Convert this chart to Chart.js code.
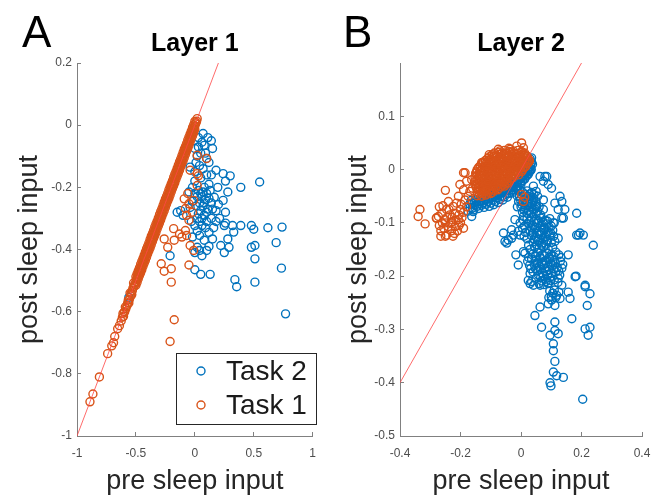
<!DOCTYPE html>
<html>
<head>
<meta charset="utf-8">
<script src="https://cdn.jsdelivr.net/npm/chart.js@4.4.1/dist/chart.umd.min.js"></script>
<style>
  body { margin: 0; background: #fff; }
  #wrap { position: relative; width: 665px; height: 498px; }
  canvas { position: absolute; top: 0; }
  #chartA { left: 0; }
  #chartB { left: 330px; }
</style>
</head>
<body>
<div id="wrap">
  <canvas id="chartA" width="330" height="498"></canvas>
  <canvas id="chartB" width="335" height="498"></canvas>
</div>
<script>
// Layer 1, Task 1 (pre, post) - most points sit on the identity line
const layer1Task1 = [
  [0.02,0.021],[0.015,0.013],[0.01,0.008],[0.005,0.004],[0.0,-0.003],[-0.005,-0.006],[-0.01,-0.012],[-0.015,-0.016],
  [-0.02,-0.022],[-0.025,-0.027],[-0.03,-0.031],[-0.035,-0.038],[-0.04,-0.042],[-0.045,-0.046],[-0.05,-0.053],
  [-0.055,-0.057],[-0.06,-0.061],[-0.065,-0.068],[-0.07,-0.072],[-0.075,-0.076],[-0.08,-0.083],[-0.085,-0.087],
  [-0.09,-0.091],[-0.095,-0.098],[-0.1,-0.102],[-0.105,-0.106],[-0.11,-0.113],[-0.115,-0.117],[-0.12,-0.121],
  [-0.125,-0.128],[-0.13,-0.132],[-0.135,-0.136],[-0.14,-0.143],[-0.145,-0.147],[-0.15,-0.151],[-0.155,-0.158],
  [-0.16,-0.162],[-0.165,-0.166],[-0.17,-0.173],[-0.175,-0.177],[-0.18,-0.181],[-0.185,-0.188],[-0.19,-0.192],
  [-0.195,-0.196],[-0.2,-0.203],[-0.205,-0.207],[-0.21,-0.211],[-0.215,-0.218],[-0.22,-0.222],[-0.225,-0.226],
  [-0.23,-0.233],[-0.235,-0.237],[-0.24,-0.241],[-0.245,-0.248],[-0.25,-0.252],[-0.255,-0.256],[-0.26,-0.263],
  [-0.265,-0.267],[-0.27,-0.271],[-0.275,-0.278],[-0.28,-0.282],[-0.285,-0.286],[-0.29,-0.293],[-0.295,-0.297],
  [-0.3,-0.301],[-0.305,-0.308],[-0.31,-0.312],[-0.315,-0.316],[-0.32,-0.323],[-0.325,-0.327],[-0.33,-0.331],
  [-0.335,-0.338],[-0.34,-0.342],[-0.345,-0.346],[-0.35,-0.353],[-0.355,-0.357],[-0.36,-0.361],[-0.365,-0.368],
  [-0.37,-0.372],[-0.375,-0.376],[-0.38,-0.383],[-0.385,-0.387],[-0.39,-0.391],[-0.395,-0.398],[-0.4,-0.402],
  [-0.405,-0.406],[-0.41,-0.413],[-0.415,-0.417],[-0.42,-0.421],[-0.425,-0.428],[-0.43,-0.432],[-0.435,-0.436],
  [-0.44,-0.443],[-0.445,-0.447],[-0.45,-0.451],[-0.455,-0.458],[-0.46,-0.462],[-0.465,-0.466],[-0.47,-0.473],
  [-0.475,-0.477],[-0.48,-0.481],[-0.485,-0.488],[-0.49,-0.492],[-0.495,-0.496],[-0.5,-0.503],
  [0.0,-0.014],[-0.02,-0.035],[-0.04,-0.054],[-0.06,-0.075],[-0.08,-0.094],[-0.1,-0.115],[-0.12,-0.134],
  [-0.14,-0.155],[-0.16,-0.174],[-0.18,-0.195],[-0.2,-0.214],[-0.22,-0.235],[-0.24,-0.254],[-0.26,-0.275],
  [-0.28,-0.294],[-0.3,-0.315],[-0.32,-0.334],[-0.34,-0.355],[-0.36,-0.374],[-0.38,-0.395],[-0.4,-0.414],
  [-0.42,-0.435],[-0.44,-0.454],[-0.46,-0.475],[-0.48,-0.494],[-0.5,-0.515],
  [-0.01,-0.025],[-0.03,-0.044],[-0.05,-0.065],[-0.07,-0.084],[-0.09,-0.105],[-0.11,-0.124],[-0.13,-0.145],
  [-0.15,-0.164],[-0.17,-0.185],[-0.19,-0.204],[-0.21,-0.225],[-0.23,-0.244],[-0.25,-0.265],[-0.27,-0.284],
  [-0.29,-0.305],[-0.31,-0.324],[-0.33,-0.345],[-0.35,-0.364],[-0.37,-0.385],[-0.39,-0.404],[-0.41,-0.425],
  [-0.43,-0.444],[-0.45,-0.465],[-0.47,-0.484],[-0.49,-0.505],
  [0.0,0.012],[-0.02,-0.008],[-0.04,-0.029],[-0.06,-0.048],[-0.08,-0.069],[-0.1,-0.088],[-0.12,-0.109],
  [-0.14,-0.128],[-0.16,-0.149],[-0.18,-0.168],[-0.2,-0.189],[-0.22,-0.208],[-0.24,-0.229],[-0.26,-0.248],
  [-0.28,-0.269],[-0.3,-0.288],[-0.32,-0.309],[-0.34,-0.328],[-0.36,-0.349],[-0.38,-0.368],[-0.4,-0.389],
  [-0.42,-0.408],[-0.44,-0.429],[-0.46,-0.448],[-0.48,-0.469],[-0.5,-0.488],
  [-0.01,0.001],[-0.03,-0.019],[-0.05,-0.038],[-0.07,-0.059],[-0.09,-0.078],[-0.11,-0.099],[-0.13,-0.118],
  [-0.15,-0.139],[-0.17,-0.158],[-0.19,-0.179],[-0.21,-0.198],[-0.23,-0.219],[-0.25,-0.238],[-0.27,-0.259],
  [-0.29,-0.278],[-0.31,-0.299],[-0.33,-0.318],[-0.35,-0.339],[-0.37,-0.358],[-0.39,-0.379],[-0.41,-0.398],
  [-0.43,-0.419],[-0.45,-0.438],[-0.47,-0.459],[-0.49,-0.478],
  [-0.51,-0.512],[-0.515,-0.518],[-0.52,-0.508],[-0.525,-0.524],[-0.53,-0.532],[-0.535,-0.545],[-0.54,-0.54],
  [-0.545,-0.55],[-0.55,-0.54],[-0.555,-0.56],[-0.56,-0.572],[-0.565,-0.563],[-0.57,-0.572],[-0.575,-0.58],
  [-0.585,-0.59],[-0.59,-0.585],[-0.595,-0.6],[-0.6,-0.602],[-0.605,-0.615],[-0.61,-0.606],[-0.615,-0.618],
  [-0.625,-0.63],[-0.64,-0.645],[-0.655,-0.655],[-0.68,-0.68],[-0.69,-0.7],[-0.705,-0.71],[-0.74,-0.735],
  [-0.81,-0.81],[-0.865,-0.865],[-0.89,-0.89],
  [0.02,-0.097],[0.1,-0.107],[-0.04,-0.145],[0.02,-0.156],[0.03,-0.163],[0.02,-0.194],[-0.09,-0.237],[-0.05,-0.253],
  [-0.08,-0.268],[-0.07,-0.29],[-0.01,-0.242],[-0.05,-0.306],[-0.06,-0.22],[-0.02,-0.28],[-0.18,-0.333],[-0.13,-0.35],
  [-0.08,-0.339],[-0.07,-0.355],[-0.26,-0.366],[-0.175,-0.37],[-0.11,-0.36],[-0.23,-0.393],[-0.04,-0.387],[-0.01,-0.403],
  [-0.285,-0.446],[-0.2,-0.462],[-0.26,-0.47],[-0.05,-0.45],[-0.2,-0.505],[-0.175,-0.626],[-0.21,-0.696]
];

// Layer 1, Task 2
const layer1Task2 = [
  [0.07,-0.027],[0.11,-0.04],[0.14,-0.05],[0.06,-0.055],[0.08,-0.065],[0.15,-0.075],[0.0,-0.075],[0.03,-0.04],
  [0.02,-0.1],[0.1,-0.107],[0.05,-0.09],[-0.04,-0.135],[0.04,-0.13],[0.01,-0.12],[0.18,-0.145],[0.24,-0.156],
  [0.14,-0.16],[0.3,-0.163],[0.26,-0.18],[0.55,-0.183],[0.39,-0.2],[0.195,-0.2],[0.08,-0.2],[-0.05,-0.215],
  [0.28,-0.215],[0.06,-0.23],[0.09,-0.24],[0.07,-0.26],[0.05,-0.275],[0.165,-0.232],[0.24,-0.242],[0.14,-0.25],
  [-0.12,-0.275],[-0.15,-0.28],[-0.04,-0.265],[0.18,-0.275],[0.26,-0.28],[0.08,-0.29],[0.02,-0.3],[0.14,-0.3],
  [0.0,-0.18],[0.03,-0.21],[0.1,-0.22],[0.12,-0.19],[0.04,-0.25],[0.11,-0.27],[0.01,-0.26],[0.0,-0.22],
  [0.07,-0.215],[0.12,-0.235],[0.03,-0.285],[0.1,-0.31],[0.06,-0.3],[-0.02,-0.245],[0.15,-0.27],[0.2,-0.255],
  [0.09,-0.33],[0.12,-0.345],[-0.1,-0.29],[-0.03,-0.31],
  [0.03,-0.07],[0.09,-0.09],[0.12,-0.12],[0.07,-0.14],[0.0,-0.15],[0.1,-0.16],[0.05,-0.17],[0.02,-0.23],
  [0.08,-0.25],[0.05,-0.22],[0.13,-0.21],[-0.02,-0.2],[0.1,-0.28],[0.04,-0.31],[0.16,-0.33],[0.21,-0.3],
  [0.12,-0.39],[0.08,-0.37],[-0.02,-0.36],[0.0,-0.41],
  [0.48,-0.323],[0.62,-0.33],[0.74,-0.328],[0.5,-0.335],[0.69,-0.378],[0.51,-0.387],[0.39,-0.323],[0.32,-0.323],
  [0.33,-0.344],[0.25,-0.323],[0.18,-0.31],[0.26,-0.315],[0.06,-0.323],[0.0,-0.323],[0.02,-0.34],[0.15,-0.366],
  [0.28,-0.366],[0.22,-0.387],[0.29,-0.393],[0.25,-0.41],[0.04,-0.355],[0.02,-0.393],[0.04,-0.403],[0.1,-0.403],
  [0.06,-0.42],[0.48,-0.393],[-0.21,-0.42],[0.0,-0.465],[0.05,-0.48],[0.13,-0.48],[0.51,-0.43],[0.735,-0.46],
  [0.34,-0.497],[0.355,-0.52],[0.51,-0.505],[0.77,-0.607],[-0.56,-0.554]
];

// Layer 2, Task 1
const layer2Task1 = [
  [-0.334,-0.075],[-0.34,-0.088],[-0.317,-0.102],[-0.28,-0.091],[-0.25,-0.039],[-0.185,-0.006],[-0.18,-0.022],
  [-0.163,-0.019],[-0.152,-0.028],[-0.19,-0.038],[-0.169,-0.041],[-0.207,-0.05],[-0.185,-0.057],[-0.24,-0.06],
  [-0.224,-0.069],[-0.246,-0.075],[-0.262,-0.082],[-0.235,-0.085],[-0.218,-0.082],[-0.2,-0.075],[-0.279,-0.091],
  [-0.251,-0.094],[-0.229,-0.098],[-0.207,-0.094],[-0.24,-0.107],[-0.218,-0.107],[-0.273,-0.088],[-0.213,-0.063],
  [-0.246,-0.123],[-0.23,-0.115],[-0.255,-0.11],[-0.21,-0.115],[-0.195,-0.09],[-0.26,-0.1],[-0.228,-0.09],
  [-0.238,-0.075],[-0.215,-0.095],[-0.198,-0.065],[-0.175,-0.05],[-0.16,-0.035],
  [-0.27,-0.07],[-0.25,-0.1],[-0.22,-0.12],[-0.205,-0.105],[-0.19,-0.08],[-0.18,-0.07],[-0.245,-0.09],[-0.232,-0.1],
  [-0.265,-0.115],[-0.25,-0.125],[-0.27,-0.105],[-0.258,-0.068],[-0.2,-0.1],[-0.19,-0.11],[-0.225,-0.125],
  [-0.205,-0.085],[-0.265,-0.125],[-0.202,-0.028],[-0.19,-0.006],
  [0.002,0.05],[0.008,0.041],[0.002,-0.047],[0.008,-0.06],[0.012,-0.052],
  [-0.075,0.038],[-0.04,0.04],[-0.13,0.013],[-0.105,0.028],[-0.036,0.038],[-0.014,0.044],
  [-0.07,0.035],[-0.055,0.036],[-0.04,0.034],[-0.025,0.035],[-0.01,0.036],[0.002,0.034],
  [-0.088,0.031],[-0.075,0.032],[-0.062,0.031],[-0.049,0.03],[-0.036,0.032],[-0.023,0.031],[-0.011,0.03],
  [0.001,0.032],[0.012,0.031],
  [-0.095,0.028],[-0.082,0.027],[-0.068,0.029],[-0.055,0.028],[-0.042,0.027],[-0.03,0.029],[-0.017,0.028],
  [-0.005,0.027],[0.008,0.028],[0.018,0.026],
  [-0.104,0.024],[-0.091,0.025],[-0.079,0.024],[-0.066,0.023],[-0.054,0.025],[-0.041,0.024],[-0.029,0.023],
  [-0.016,0.025],[-0.004,0.024],[0.009,0.023],[0.021,0.024],
  [-0.11,0.021],[-0.098,0.02],[-0.085,0.022],[-0.072,0.021],[-0.06,0.02],[-0.048,0.022],[-0.035,0.021],
  [-0.022,0.02],[-0.01,0.022],[0.003,0.021],[0.016,0.02],[0.026,0.019],
  [-0.118,0.017],[-0.106,0.018],[-0.093,0.017],[-0.081,0.016],[-0.069,0.018],[-0.056,0.017],[-0.044,0.016],
  [-0.031,0.018],[-0.019,0.017],[-0.006,0.016],[0.006,0.018],[0.018,0.017],[0.028,0.016],
  [-0.125,0.014],[-0.113,0.013],[-0.1,0.015],[-0.088,0.014],[-0.076,0.013],[-0.063,0.015],[-0.05,0.014],
  [-0.038,0.013],[-0.025,0.015],[-0.013,0.014],[0.0,0.013],[0.012,0.015],[0.024,0.013],
  [-0.129,0.011],[-0.116,0.01],[-0.104,0.011],[-0.091,0.01],[-0.078,0.011],[-0.066,0.01],[-0.053,0.011],
  [-0.041,0.01],[-0.028,0.011],[-0.016,0.01],[-0.003,0.011],[0.009,0.01],[0.021,0.011],
  [-0.135,0.007],[-0.122,0.006],[-0.11,0.008],[-0.097,0.007],[-0.085,0.006],[-0.072,0.008],[-0.06,0.007],
  [-0.047,0.006],[-0.035,0.008],[-0.022,0.007],[-0.01,0.006],[0.003,0.008],[0.016,0.006],
  [-0.14,0.004],[-0.128,0.003],[-0.115,0.004],[-0.103,0.003],[-0.09,0.004],[-0.078,0.003],[-0.065,0.004],
  [-0.053,0.003],[-0.04,0.004],[-0.028,0.003],[-0.015,0.004],[-0.002,0.003],[0.011,0.004],
  [-0.145,0.0],[-0.132,-0.001],[-0.12,0.001],[-0.107,0.0],[-0.095,-0.001],[-0.082,0.001],[-0.07,0.0],
  [-0.057,-0.001],[-0.045,0.001],[-0.032,0.0],[-0.02,-0.001],[-0.007,0.001],[0.006,0.0],
  [-0.147,-0.004],[-0.135,-0.003],[-0.122,-0.004],[-0.11,-0.003],[-0.097,-0.004],[-0.085,-0.003],[-0.072,-0.004],
  [-0.06,-0.003],[-0.047,-0.004],[-0.035,-0.003],[-0.022,-0.004],[-0.01,-0.003],[0.002,-0.004],
  [-0.15,-0.007],[-0.138,-0.008],[-0.125,-0.006],[-0.112,-0.007],[-0.1,-0.008],[-0.087,-0.006],[-0.075,-0.007],
  [-0.062,-0.008],[-0.05,-0.006],[-0.037,-0.007],[-0.025,-0.008],[-0.012,-0.006],
  [-0.146,-0.011],[-0.133,-0.01],[-0.121,-0.011],[-0.108,-0.01],[-0.096,-0.011],[-0.083,-0.01],[-0.071,-0.011],
  [-0.058,-0.01],[-0.046,-0.011],[-0.033,-0.01],[-0.02,-0.011],[-0.008,-0.01],
  [-0.152,-0.014],[-0.14,-0.015],[-0.127,-0.013],[-0.115,-0.014],[-0.102,-0.015],[-0.09,-0.013],[-0.077,-0.014],
  [-0.065,-0.015],[-0.052,-0.013],[-0.04,-0.014],[-0.027,-0.015],
  [-0.145,-0.018],[-0.133,-0.017],[-0.12,-0.018],[-0.108,-0.017],[-0.095,-0.018],[-0.083,-0.017],[-0.07,-0.018],
  [-0.058,-0.017],[-0.045,-0.018],[-0.033,-0.017],
  [-0.15,-0.021],[-0.137,-0.022],[-0.125,-0.02],[-0.112,-0.021],[-0.1,-0.022],[-0.087,-0.02],[-0.075,-0.021],
  [-0.062,-0.022],[-0.05,-0.02],[-0.038,-0.021],
  [-0.143,-0.025],[-0.131,-0.024],[-0.118,-0.025],[-0.106,-0.024],[-0.093,-0.025],[-0.081,-0.024],[-0.068,-0.025],
  [-0.056,-0.024],[-0.043,-0.025],
  [-0.148,-0.028],[-0.135,-0.029],[-0.122,-0.027],[-0.11,-0.028],[-0.097,-0.029],[-0.085,-0.027],[-0.072,-0.028],
  [-0.06,-0.029],[-0.048,-0.027],
  [-0.141,-0.032],[-0.128,-0.031],[-0.116,-0.032],[-0.103,-0.031],[-0.091,-0.032],[-0.078,-0.031],[-0.066,-0.032],
  [-0.054,-0.031],
  [-0.147,-0.035],[-0.134,-0.036],[-0.122,-0.034],[-0.109,-0.035],[-0.097,-0.036],[-0.084,-0.034],[-0.072,-0.035],
  [-0.14,-0.039],[-0.127,-0.038],[-0.114,-0.039],[-0.101,-0.038],[-0.089,-0.039],[-0.077,-0.038],
  [-0.145,-0.042],[-0.132,-0.043],[-0.12,-0.041],[-0.107,-0.042],[-0.095,-0.043],
  [-0.138,-0.046],[-0.125,-0.045],[-0.112,-0.046],[-0.1,-0.045],
  [-0.145,-0.049],[-0.13,-0.05],[-0.117,-0.048]
];

// Layer 2, Task 2
const layer2Task2 = [
  [-0.165,-0.058],[-0.15,-0.056],[-0.135,-0.054],[-0.12,-0.052],[-0.105,-0.05],[-0.09,-0.047],[-0.075,-0.043],
  [-0.06,-0.039],[-0.045,-0.034],[-0.03,-0.028],[-0.015,-0.021],[0.0,-0.013],[0.013,-0.005],[0.024,0.004],
  [0.033,0.012],
  [-0.17,-0.065],[-0.155,-0.062],[-0.14,-0.06],[-0.125,-0.058],[-0.11,-0.055],[-0.095,-0.052],[-0.08,-0.048],
  [-0.065,-0.044],[-0.05,-0.04],[-0.035,-0.034],[-0.02,-0.027],[-0.005,-0.019],[0.01,-0.01],[0.022,-0.002],
  [0.032,0.006],[0.035,0.014],
  [-0.162,-0.063],[-0.147,-0.061],[-0.132,-0.059],[-0.117,-0.057],[-0.102,-0.054],[-0.087,-0.05],[-0.072,-0.046],
  [-0.057,-0.042],[-0.042,-0.037],[-0.027,-0.031],[-0.012,-0.023],[0.003,-0.015],[0.016,-0.006],[0.027,0.002],
  [-0.168,-0.071],[-0.152,-0.067],[-0.137,-0.064],[-0.122,-0.062],[-0.107,-0.06],[-0.092,-0.057],[-0.077,-0.053],
  [-0.062,-0.05],[-0.047,-0.045],[-0.032,-0.04],[-0.017,-0.033],[-0.002,-0.025],[0.013,-0.016],[0.025,-0.008],
  [0.034,0.0],
  [-0.158,-0.076],[-0.14,-0.073],[-0.122,-0.071],[-0.105,-0.069],[-0.09,-0.066],[-0.075,-0.062],[-0.06,-0.057],
  [-0.045,-0.052],[-0.03,-0.044],[-0.015,-0.036],[0.0,-0.027],[0.012,-0.018],[0.022,-0.01],[0.031,-0.002],
  [-0.175,-0.078],[-0.16,-0.072],[-0.145,-0.069],[-0.13,-0.067],[-0.115,-0.065],[-0.1,-0.063],[-0.085,-0.06],
  [-0.07,-0.056],[-0.055,-0.051],[-0.04,-0.045],[-0.025,-0.038],[-0.01,-0.03],[0.005,-0.021],[0.018,-0.012],
  [0.028,-0.004],
  [-0.14,-0.05],[-0.11,-0.045],[-0.08,-0.04],[-0.05,-0.03],[-0.02,-0.018],[0.005,-0.005],[0.025,0.008],
  [0.03,0.02],[0.02,0.025],[0.035,0.022],[0.038,0.01],[-0.163,-0.088],[-0.158,-0.079],
  [0.079,-0.013],[0.085,-0.013],[0.09,-0.028],[0.101,-0.035],[0.074,-0.022],[0.041,-0.031],[-0.014,-0.035],
  [-0.003,-0.038],[0.129,-0.05],[0.074,-0.057],[0.112,-0.063],[0.135,-0.06],[0.052,-0.069],[0.074,-0.075],
  [0.145,-0.075],[0.184,-0.082],[0.135,-0.091],[-0.02,-0.094],[-0.003,-0.1],[0.008,-0.088],[-0.031,-0.113],
  [-0.009,-0.116],[-0.025,-0.123],[0.107,-0.1],[0.195,-0.119],[0.19,-0.123],[0.206,-0.123],[-0.042,-0.132],
  [-0.053,-0.135],[-0.047,-0.138],[-0.031,-0.129],[-0.058,-0.119],[0.123,-0.129],[0.239,-0.142],[0.008,-0.154],
  [0.156,-0.16],[-0.009,-0.179],[-0.003,-0.123],[0.179,-0.201],[0.182,-0.2],[0.212,-0.217],[0.024,-0.208],
  [0.041,-0.217],[0.123,-0.204],[0.135,-0.217],[-0.017,-0.16],[0.013,-0.157],
  [0.123,-0.075],[0.14,-0.091],[0.184,-0.123],[0.063,-0.013],
  [-0.01,-0.04],[0.005,-0.042],[0.02,-0.04],[0.035,-0.043],[0.05,-0.041],[-0.005,-0.05],[0.01,-0.052],
  [0.025,-0.05],[0.04,-0.053],[0.055,-0.05],[-0.008,-0.06],[0.006,-0.062],[0.021,-0.06],[0.036,-0.063],
  [0.05,-0.06],[0.0,-0.07],[0.015,-0.072],[0.03,-0.07],[0.045,-0.073],[0.06,-0.07],[0.005,-0.08],
  [0.02,-0.082],[0.035,-0.08],[0.05,-0.083],[0.065,-0.085],[-0.012,-0.07],[-0.012,-0.05],
  [0.013,-0.046],[0.028,-0.046],[0.043,-0.047],[-0.002,-0.056],[0.013,-0.057],[0.028,-0.055],[0.043,-0.058],
  [0.003,-0.066],[0.018,-0.067],[0.033,-0.065],[0.048,-0.067],[0.01,-0.076],[0.025,-0.077],[0.04,-0.075],
  [0.055,-0.078],
  [0.02,-0.092],[0.035,-0.09],[0.05,-0.094],[0.065,-0.091],[0.08,-0.095],[0.095,-0.092],[0.025,-0.102],
  [0.04,-0.105],[0.055,-0.101],[0.07,-0.104],[0.085,-0.102],[0.1,-0.106],[0.03,-0.114],[0.045,-0.112],
  [0.06,-0.116],[0.075,-0.113],[0.09,-0.117],[0.105,-0.114],[0.035,-0.124],[0.05,-0.127],[0.065,-0.123],
  [0.08,-0.126],[0.095,-0.124],[0.04,-0.136],[0.055,-0.134],[0.07,-0.138],[0.085,-0.135],[0.1,-0.137],
  [0.045,-0.146],[0.06,-0.148],[0.075,-0.145],[0.09,-0.149],
  [0.028,-0.097],[0.043,-0.098],[0.058,-0.096],[0.073,-0.099],[0.088,-0.097],[0.033,-0.108],[0.048,-0.109],
  [0.063,-0.107],[0.078,-0.11],[0.093,-0.108],[0.038,-0.119],[0.053,-0.12],[0.068,-0.118],[0.083,-0.121],
  [0.098,-0.119],[0.043,-0.13],[0.058,-0.131],[0.073,-0.129],[0.088,-0.132],[0.053,-0.141],[0.068,-0.142],
  [0.083,-0.14],
  [0.008,-0.095],[0.012,-0.106],[0.015,-0.118],[0.02,-0.13],[0.025,-0.142],[0.03,-0.15],[0.01,-0.125],
  [0.005,-0.11],[0.108,-0.125],[0.112,-0.135],[0.105,-0.146],[0.11,-0.1],
  [0.04,-0.158],[0.055,-0.156],[0.07,-0.16],[0.085,-0.157],[0.1,-0.159],[0.115,-0.155],[0.035,-0.168],
  [0.05,-0.17],[0.065,-0.167],[0.08,-0.171],[0.095,-0.168],[0.11,-0.17],[0.045,-0.18],[0.06,-0.182],
  [0.075,-0.179],[0.09,-0.183],[0.105,-0.18],[0.12,-0.184],[0.04,-0.192],[0.055,-0.19],[0.07,-0.194],
  [0.085,-0.191],[0.1,-0.195],[0.115,-0.192],[0.05,-0.204],[0.065,-0.202],[0.08,-0.206],[0.095,-0.203],
  [0.11,-0.207],[0.06,-0.214],[0.075,-0.216],[0.09,-0.213],
  [0.048,-0.163],[0.063,-0.164],[0.078,-0.162],[0.093,-0.165],[0.108,-0.163],[0.053,-0.175],[0.068,-0.176],
  [0.083,-0.174],[0.098,-0.177],[0.113,-0.175],[0.048,-0.186],[0.063,-0.187],[0.078,-0.185],[0.093,-0.188],
  [0.108,-0.186],[0.058,-0.198],[0.073,-0.199],[0.088,-0.197],[0.103,-0.2],[0.068,-0.209],[0.083,-0.21],
  [0.098,-0.208],
  [0.025,-0.165],[0.028,-0.18],[0.03,-0.195],[0.035,-0.21],[0.022,-0.172],[0.032,-0.186],[0.125,-0.16],
  [0.13,-0.172],[0.135,-0.185],[0.128,-0.198],[0.122,-0.212],[0.138,-0.178],[0.132,-0.165],[0.125,-0.19],
  [0.03,-0.214],[0.063,-0.217],[0.09,-0.214],[0.101,-0.245],[0.09,-0.252],[0.112,-0.255],[0.129,-0.242],
  [0.118,-0.236],[0.105,-0.232],[0.156,-0.23],[0.162,-0.242],[0.212,-0.22],[0.228,-0.233],[0.219,-0.255],
  [0.095,-0.228],[0.11,-0.226],[0.125,-0.23],[0.1,-0.238],[0.115,-0.24],[0.092,-0.24],
  [0.063,-0.258],[0.046,-0.274],[0.068,-0.296],[0.168,-0.28],[0.112,-0.286],[0.112,-0.302],[0.096,-0.311],
  [0.123,-0.308],[0.212,-0.299],[0.228,-0.296],[0.222,-0.311],[0.107,-0.327],[0.107,-0.34],[0.112,-0.36],
  [0.107,-0.38],[0.118,-0.387],[0.14,-0.39],[0.096,-0.4],[0.099,-0.406],[0.204,-0.431]
];

// identity line ends (pre = post)
const identityA = [-1, 0.2];
const identityB = [-0.4, 0.2];

// tick labels
const xTicksA = [-1, -0.5, 0, 0.5, 1];
const yTicksA = [0.2, 0, -0.2, -0.4, -0.6, -0.8, -1];
const xTicksB = [-0.4, -0.2, 0, 0.2, 0.4];
const yTicksB = [0.1, 0, -0.1, -0.2, -0.3, -0.4, -0.5];

const legendLabels = ['Task 2', 'Task 1'];

const FONT = "'Liberation Sans', Arial, Helvetica, sans-serif";
const BLUE = '#0072BD';
const ORANGE = '#D95319';
const AXIS = '#808080';

function toPoints(arr) {
    return arr.map(p => ({x: p[0], y: p[1]}));
}

// big panel letter (A / B)
const panelLetter = {
    id: 'panelLetter',
    afterDraw(chart, args, opts) {
        const ctx = chart.ctx;
        ctx.save();
        ctx.font = '44px ' + FONT;
        ctx.fillStyle = '#000';
        ctx.textBaseline = 'alphabetic';
        ctx.fillText(opts.text, opts.x, 47);
        ctx.restore();
    }
};

// boxed legend inside the plot, like matlab's southeast legend
const boxLegend = {
    id: 'boxLegend',
    afterDraw(chart) {
        const ctx = chart.ctx;
        ctx.save();
        ctx.fillStyle = '#fff';
        ctx.fillRect(176, 353, 140, 71);
        ctx.strokeStyle = '#262626';
        ctx.lineWidth = 1;
        ctx.strokeRect(176.5, 353.5, 140, 71);
        legendLabels.forEach((label, i) => {
            const ds = chart.data.datasets.find(d => d.label === label);
            const y = 371 + i * 34;
            ctx.beginPath();
            ctx.arc(201, y, ds.pointRadius, 0, Math.PI * 2);
            ctx.strokeStyle = ds.borderColor;
            ctx.lineWidth = ds.borderWidth;
            ctx.stroke();
            ctx.fillStyle = '#1a1a1a';
            ctx.font = '28px ' + FONT;
            ctx.textBaseline = 'middle';
            ctx.fillText(label, 226, y + 1);
        });
        ctx.restore();
    }
};

function axis(min, max, ticks, title, isX, size, titlePad) {
    return {
        type: 'linear',
        position: isX ? 'bottom' : 'left',
        min: min,
        max: max,
        afterBuildTicks: s => { s.ticks = ticks.map(v => ({value: v})); },
        afterFit: s => { if (isX) s.height = size; else s.width = size; },
        grid: {drawOnChartArea: false, drawTicks: true, tickLength: -4, color: AXIS, lineWidth: 1},
        border: {display: true, color: AXIS, width: 1},
        ticks: {
            padding: isX ? 14 : 9,
            color: '#4d4d4d',
            font: {family: FONT, size: 12},
            callback: v => String(Math.round(v * 100) / 100)
        },
        title: {
            display: true,
            text: title,
            color: '#262626',
            font: {family: FONT, size: 27, lineHeight: 1},
            padding: isX ? {top: 0, bottom: titlePad} : {top: titlePad, bottom: 0}
        }
    };
}

function makeChart(id, cfg) {
    const ctx = document.getElementById(id).getContext('2d');
    return new Chart(ctx, {
        type: 'scatter',
        data: {
            datasets: [{
                type: 'line',
                label: 'identity',
                data: cfg.identity.map(v => ({x: v, y: v})),
                borderColor: 'rgba(255, 70, 70, 0.8)',
                borderWidth: 1,
                pointRadius: 0,
                order: 0
            }, {
                label: 'Task 1',
                data: toPoints(cfg.task1),
                borderColor: ORANGE,
                backgroundColor: 'rgba(0,0,0,0)',
                borderWidth: 1.4,
                pointRadius: 4,
                order: 1
            }, {
                label: 'Task 2',
                data: toPoints(cfg.task2),
                borderColor: BLUE,
                backgroundColor: 'rgba(0,0,0,0)',
                borderWidth: 1.4,
                pointRadius: 4,
                order: 2
            }]
        },
        options: {
            responsive: false,
            animation: false,
            events: [],
            layout: {padding: {left: 0, right: cfg.padRight, top: 0, bottom: 0}},
            plugins: {
                legend: {display: false},
                tooltip: {enabled: false},
                title: {
                    display: true,
                    text: cfg.title,
                    fullSize: false,
                    color: '#000',
                    font: {family: FONT, size: 25, weight: 'bold', lineHeight: 1.2},
                    padding: {top: 29, bottom: 4}
                },
                panelLetter: {text: cfg.letter, x: cfg.letterX}
            },
            scales: {
                x: axis(cfg.xMin, cfg.xMax, cfg.xTicks, 'pre sleep input', true, 62, 2.5),
                y: axis(cfg.yMin, cfg.yMax, cfg.yTicks, 'post sleep input', false, cfg.yWidth, cfg.yTitlePad)
            }
        },
        plugins: cfg.legend ? [panelLetter, boxLegend] : [panelLetter]
    });
}

makeChart('chartA', {
    task1: layer1Task1, task2: layer1Task2, identity: identityA,
    xMin: -1, xMax: 1, yMin: -1, yMax: 0.2, xTicks: xTicksA, yTicks: yTicksA,
    title: 'Layer 1', letter: 'A', letterX: 22, yWidth: 77, yTitlePad: 16, padRight: 10, legend: true
});

makeChart('chartB', {
    task1: layer2Task1, task2: layer2Task2, identity: identityB,
    xMin: -0.4, xMax: 0.4, yMin: -0.5, yMax: 0.2, xTicks: xTicksB, yTicks: yTicksB,
    title: 'Layer 2', letter: 'B', letterX: 13, yWidth: 70, yTitlePad: 15, padRight: 23, legend: false
});
</script>
</body>
</html>
